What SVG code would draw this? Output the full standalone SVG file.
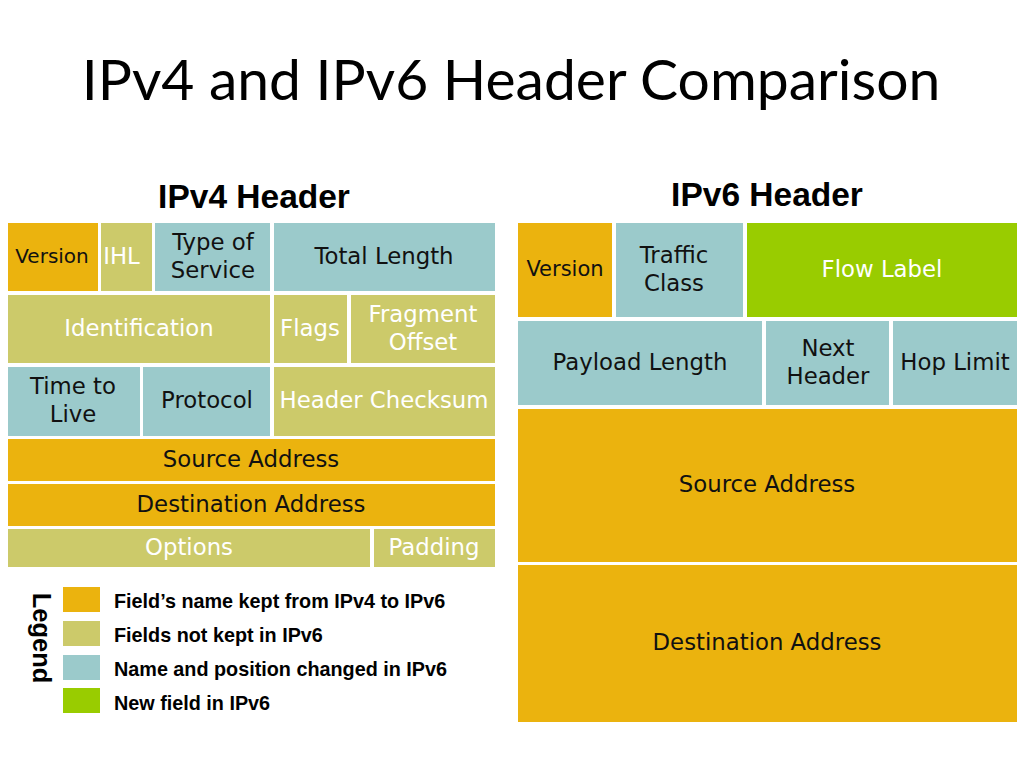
<svg xmlns="http://www.w3.org/2000/svg" width="1024" height="768" viewBox="0 0 1024 768">
<style>
.o{fill:#EBB30E}.k{fill:#CCCA6A}.b{fill:#9BCACB}.g{fill:#99CC00}
.t{font-family:"DejaVu Sans",Verdana,sans-serif;font-size:22.8px;text-anchor:middle;dominant-baseline:central}
.d{fill:#111}.w{fill:#fff}
.h{font-family:"Liberation Sans",Arial,sans-serif;font-weight:bold;font-size:33.5px;text-anchor:middle;fill:#000}
.l{font-family:"Liberation Sans",Arial,sans-serif;font-weight:bold;font-size:19.8px;fill:#000}
</style>
<rect width="1024" height="768" fill="#fff"/>
<text x="511" y="100" font-family="Lato, 'Open Sans', sans-serif" font-size="57" text-anchor="middle" fill="#000">IPv4 and IPv6 Header Comparison</text>
<text class="h" x="254" y="208">IPv4 Header</text>
<text class="h" x="767" y="206">IPv6 Header</text>
<g id="ipv4">
<g id="v4-version"><rect class="o" x="8" y="223" width="90" height="68"/><text class="t d" x="52" y="256" style="font-size:20px">Version</text></g>
<g id="v4-ihl"><rect class="k" x="101" y="223" width="51" height="68"/><text class="t w" x="121.5" y="256">IHL</text></g>
<g id="v4-tos"><rect class="b" x="155" y="223" width="115" height="68"/><text class="t d" x="213" y="242">Type of</text><text class="t d" x="213" y="270">Service</text></g>
<g id="v4-totlen"><rect class="b" x="274" y="223" width="221" height="68"/><text class="t d" x="384" y="256">Total Length</text></g>
<g id="v4-ident"><rect class="k" x="8" y="295" width="262" height="68"/><text class="t w" x="139" y="328">Identification</text></g>
<g id="v4-flags"><rect class="k" x="274" y="295" width="73" height="68"/><text class="t w" x="310" y="328">Flags</text></g>
<g id="v4-frag"><rect class="k" x="351" y="295" width="144" height="68"/><text class="t w" x="423" y="314">Fragment</text><text class="t w" x="423" y="342">Offset</text></g>
<g id="v4-ttl"><rect class="b" x="8" y="367" width="132" height="69"/><text class="t d" x="73" y="386">Time to</text><text class="t d" x="73" y="414">Live</text></g>
<g id="v4-proto"><rect class="b" x="143" y="367" width="127" height="69"/><text class="t d" x="207" y="400">Protocol</text></g>
<g id="v4-cksum"><rect class="k" x="274" y="367" width="221" height="69"/><text class="t w" x="384" y="400">Header Checksum</text></g>
<g id="v4-src"><rect class="o" x="8" y="439" width="487" height="42"/><text class="t d" x="251" y="459">Source Address</text></g>
<g id="v4-dst"><rect class="o" x="8" y="484" width="487" height="42"/><text class="t d" x="251" y="504">Destination Address</text></g>
<g id="v4-opt"><rect class="k" x="8" y="529" width="362" height="38"/><text class="t w" x="189" y="547">Options</text></g>
<g id="v4-pad"><rect class="k" x="374" y="529" width="121" height="38"/><text class="t w" x="434" y="547">Padding</text></g>
</g>
<g id="ipv6">
<g id="v6-version"><rect class="o" x="518" y="223" width="94" height="94"/><text class="t d" x="565" y="269" style="font-size:21px">Version</text></g>
<g id="v6-tc"><rect class="b" x="616" y="223" width="127" height="94"/><text class="t d" x="674" y="255">Traffic</text><text class="t d" x="674" y="283">Class</text></g>
<g id="v6-flow"><rect class="g" x="747" y="223" width="270" height="94"/><text class="t w" x="882" y="269">Flow Label</text></g>
<g id="v6-plen"><rect class="b" x="518" y="321" width="244" height="84"/><text class="t d" x="640" y="362">Payload Length</text></g>
<g id="v6-nh"><rect class="b" x="766" y="321" width="123" height="84"/><text class="t d" x="828" y="348">Next</text><text class="t d" x="828" y="376">Header</text></g>
<g id="v6-hop"><rect class="b" x="893" y="321" width="124" height="84"/><text class="t d" x="955" y="362">Hop Limit</text></g>
<g id="v6-src"><rect class="o" x="518" y="409" width="499" height="153"/><text class="t d" x="767" y="484">Source Address</text></g>
<g id="v6-dst"><rect class="o" x="518" y="565" width="499" height="157"/><text class="t d" x="767" y="642">Destination Address</text></g>
</g>
<g id="legend">
<text class="l" style="font-size:25.5px" text-anchor="middle" dominant-baseline="central" transform="translate(42,638) rotate(90)">Legend</text>
<rect class="o" x="63" y="587" width="37" height="25"/><text class="l" x="114" y="608">Field’s name kept from IPv4 to IPv6</text>
<rect class="k" x="63" y="621" width="37" height="25"/><text class="l" x="114" y="642">Fields not kept in IPv6</text>
<rect class="b" x="63" y="655" width="37" height="25"/><text class="l" x="114" y="676">Name and position changed in IPv6</text>
<rect class="g" x="63" y="688" width="37" height="25"/><text class="l" x="114" y="710">New field in IPv6</text>
</g>
<g id="connectors"/>
</svg>
